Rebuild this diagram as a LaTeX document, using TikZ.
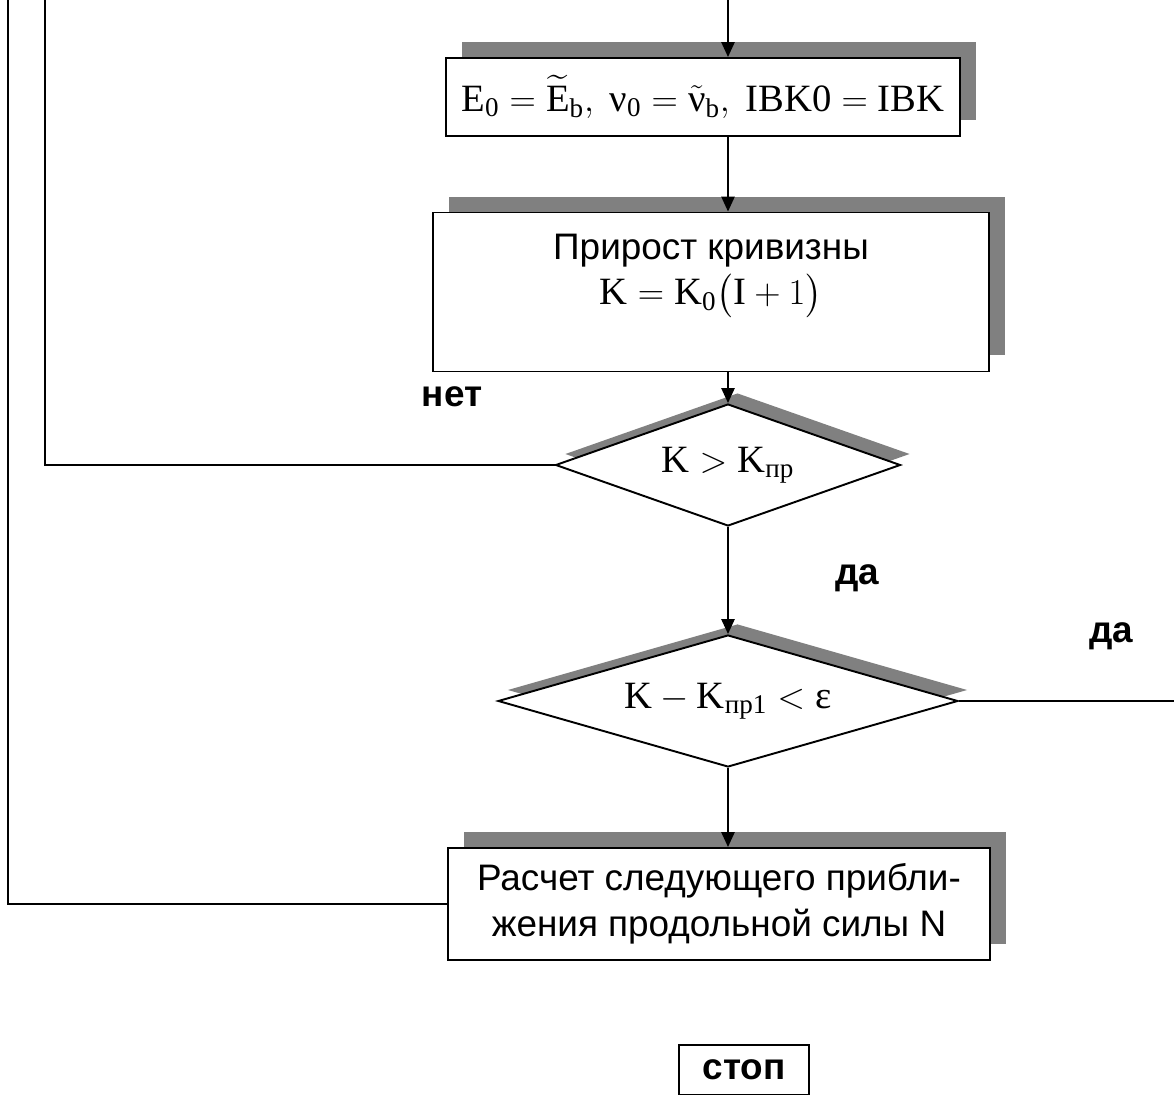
\documentclass[tikz,border=0pt]{standalone}
\usepackage{fontspec}
\usepackage{amsmath}
\setmainfont{Liberation Serif}
\newfontfamily\arial{Liberation Sans}
\usetikzlibrary{shapes.geometric, arrows.meta, shadows}

\begin{document}
\begin{tikzpicture}[
    x=0.02cm, y=-0.02cm,
    line width=1.1pt,
    box/.style={rectangle, draw, fill=white, align=center, inner sep=2pt, drop shadow={shadow xshift=0.32cm, shadow yshift=0.32cm, fill=black!50, opacity=1}},
    test/.style={diamond, draw, fill=white, aspect=2.6, inner sep=0pt, drop shadow={shadow xshift=0.19cm, shadow yshift=0.22cm, fill=black!50, opacity=1}},
    rus/.style={font=\arial\fontsize{21}{26}\selectfont},
    mth/.style={font=\fontsize{22}{26}\selectfont},
    lbl/.style={font=\arial\bfseries\fontsize{21}{24}\selectfont},
    flow/.style={-{Triangle[length=8.5pt,width=7.5pt]}},
]
\useasboundingbox (0,0) rectangle (1174,1095);

\node[box, mth, minimum width=10.3cm, minimum height=1.56cm] (init) at (703,97) {$\mathrm{E}_{\text{0}}=\widetilde{\mathrm{E}}_{\text{b}},\ \text{ν}_{\text{0}}=\tilde{\text{ν}}_{\text{b}},\ \mathrm{IBK0}=\mathrm{IBK}$};
\node[box, rus, minimum width=11.14cm, minimum height=3.18cm] (incr) at (711,292) {Прирост кривизны\\{\rmfamily\fontsize{22}{26}\selectfont $\mathrm{K}=\mathrm{K}_{\text{0}}\bigl(\mathrm{I}+1\bigr)$}\\ \mbox{}};
\node[test, mth, minimum width=6.9cm, minimum height=2.44cm] (chk1) at (728,465) {$\mathrm{K}>\mathrm{K}_{\text{пр}}$};
\node[test, mth, minimum width=9.2cm, minimum height=2.64cm] (chk2) at (728,701) {$\mathrm{K}-\mathrm{K}_{\text{пр1}}<\text{ε}$};
\node[box, rus, minimum width=10.86cm, minimum height=2.24cm] (next) at (719,904) {Расчет следующего прибли-\\жения продольной силы N};
\node[draw, rectangle, lbl, line width=1.5pt, minimum width=2.6cm, minimum height=1cm] (stop) at (744,1070) {стоп};

% branch labels
\node[lbl] (no) at (452,397) {нет};
\node[lbl] (yes1) at (857,578) {да};
\node[lbl] (yes2) at (1111,636) {да};

\coordinate (in1) at (728,0);
\coordinate (loopA) at (45,0);
\coordinate (loopB) at (8,0);
\coordinate (exit) at (1174,0);

\draw[flow] (in1) -- (in1 |- init.north);
\draw[flow] (init.south -| in1) -- (incr.north -| in1);
\draw[flow] (incr.south -| chk1.north) -- (chk1.north);
\draw[flow] (chk1.south) -- (chk2.north);
\draw[flow] (chk2.south) -- (chk2.south |- next.north);
\draw (chk1.west) -| (loopA);
\draw (next.west) -| (loopB);
\draw (chk2.east) -- (chk2.east -| exit);

\end{tikzpicture}
\end{document}
